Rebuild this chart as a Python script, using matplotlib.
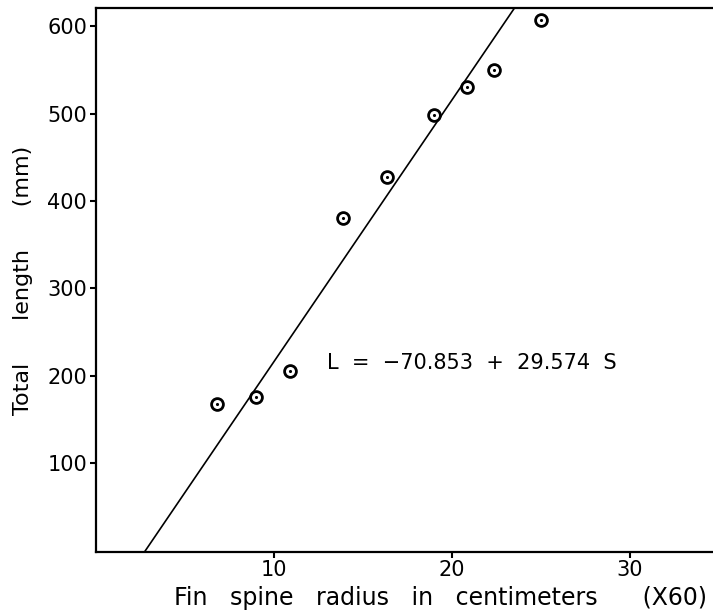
import matplotlib.pyplot as plt

# data
radius = [6.84, 9.04, 10.93, 13.89, 16.39, 19.04, 20.88, 22.38, 25.04]
length = [168, 176, 205, 381, 427, 498, 531, 550, 607]
# regression line as drawn (end points)
line_s = [2.75, 23.54]
line_l = [-2, 621]
x_ticks = [10, 20, 30]
y_ticks = [100, 200, 300, 400, 500, 600]
equation = 'L  =  \u221270.853  +  29.574  S'

plt.rcParams['font.family'] = 'DejaVu Sans'

fig = plt.figure(figsize=(7.13, 6.16), dpi=100)
ax = fig.add_axes([95.5 / 713, (616 - 552) / 616, 623 / 713, 544 / 616])

ax.plot(line_s, line_l, color='black', lw=1.2)
ax.plot(radius, length, 'o', ms=8.5, mfc='none', mec='black', mew=2)
ax.plot(radius, length, '.', ms=2.5, color='black')

ax.set_xlim(0, 35)
ax.set_ylim(-2, 621)
ax.set_xticks(x_ticks)
ax.set_yticks(y_ticks)
ax.tick_params(direction='out', length=4, width=1.5, labelsize=15, pad=2)
for sp in ax.spines.values():
    sp.set_linewidth(1.6)
ax.spines['right'].set_visible(False)

ax.text(13.0, 215, equation, fontsize=15, va='center')

ax.set_xlabel('Fin   spine   radius   in   centimeters      (X60)', fontsize=17)
ax.xaxis.set_label_coords(0.553, -0.063)
ax.set_ylabel('Total      length      (mm)', fontsize=16)
ax.yaxis.set_label_coords(-0.1, 0.5)

fig.savefig('out.png', dpi=100)
